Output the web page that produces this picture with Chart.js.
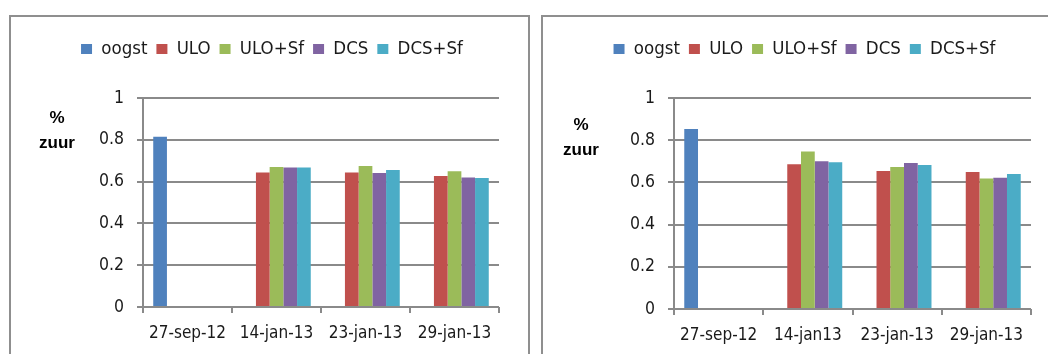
<!DOCTYPE html>
<html>
<head>
<meta charset="utf-8">
<script src="https://cdn.jsdelivr.net/npm/chart.js@4.4.0/dist/chart.umd.min.js"></script>
<style>
  body { margin: 0; width: 1048px; height: 354px; overflow: hidden; background: #fff; position: relative; }
  .box { position: absolute; top: 15px; height: 400px; border: 2px solid #8f8f8f; }
  #box1 { left: 9px; width: 517px; }
  #box2 { left: 541px; width: 520px; }
  canvas { position: absolute; top: 0; }
  #chart1 { left: 0; }
  #chart2 { left: 524px; }
</style>
</head>
<body>
<div class="box" id="box1"></div>
<div class="box" id="box2"></div>
<canvas id="chart1" width="524" height="354"></canvas>
<canvas id="chart2" width="524" height="354"></canvas>
<script>
const seriesNames = ['oogst', 'ULO', 'ULO+Sf', 'DCS', 'DCS+Sf'];
const seriesColors = ['#4f81bd', '#c0504d', '#9bbb59', '#8064a2', '#4bacc6'];

const datesLeft = ['27-sep-12', '14-jan-13', '23-jan-13', '29-jan-13'];
const oogstLeft = [0.815, null, null, null];
const uloLeft = [null, 0.643, 0.644, 0.627];
const uloSfLeft = [null, 0.670, 0.675, 0.649];
const dcsLeft = [null, 0.668, 0.641, 0.620];
const dcsSfLeft = [null, 0.667, 0.655, 0.617];

const datesRight = ['27-sep-12', '14-jan13', '23-jan-13', '29-jan-13'];
const oogstRight = [0.853, null, null, null];
const uloRight = [null, 0.686, 0.654, 0.649];
const uloSfRight = [null, 0.747, 0.673, 0.618];
const dcsRight = [null, 0.700, 0.692, 0.622];
const dcsSfRight = [null, 0.695, 0.682, 0.640];

const yTicks = [0, 0.2, 0.4, 0.6, 0.8, 1];

const narrowFont = '"DejaVu Sans Condensed", sans-serif';
const gridColor = '#8a8a8a';

// "% zuur" sits horizontally to the left of the value axis
const unitLabel = {
    id: 'unitLabel',
    afterDraw(chart, args, opts) {
        const ctx = chart.ctx;
        const x = chart.chartArea.left - opts.dx;
        const y = chart.chartArea.top;
        ctx.save();
        ctx.font = 'bold 17px "Liberation Sans", Arial, sans-serif';
        ctx.fillStyle = '#000';
        ctx.textAlign = 'center';
        ctx.textBaseline = 'middle';
        ctx.fillText('%', x, y + opts.dy);
        ctx.fillText('zuur', x, y + opts.dy + 25);
        ctx.restore();
    }
};

function makeChart(id, dates, values, box) {
    const ctx = document.getElementById(id).getContext('2d');
    return new Chart(ctx, {
        type: 'bar',
        data: {
            labels: dates,
            datasets: values.map((v, i) => ({
                label: seriesNames[i],
                data: v,
                backgroundColor: seriesColors[i],
                borderWidth: 0,
                barPercentage: 1,
                categoryPercentage: 0.77
            }))
        },
        options: {
            responsive: false,
            animation: false,
            layout: {
                padding: { left: box.padLeft, right: box.padRight, top: 30.75, bottom: 0 }
            },
            plugins: {
                legend: {
                    position: 'top',
                    labels: {
                        boxWidth: 11,
                        boxHeight: 10,
                        padding: 9,
                        color: '#1a1a1a',
                        font: { family: narrowFont, size: 18.5 }
                    }
                },
                subtitle: {
                    display: true,
                    text: '',
                    weight: 500,
                    font: { size: 10 },
                    padding: { top: 0, bottom: 17.75 }
                },
                tooltip: { enabled: false },
                unitLabel: { dx: box.unitDx, dy: box.unitDy }
            },
            scales: {
                x: {
                    afterFit: scale => { scale.height = box.xHeight; },
                    grid: {
                        drawOnChartArea: false,
                        color: gridColor,
                        lineWidth: 2,
                        tickLength: 6
                    },
                    border: { display: false },
                    ticks: {
                        color: '#1a1a1a',
                        padding: 10,
                        maxRotation: 0,
                        font: { family: narrowFont, size: 17 }
                    }
                },
                y: {
                    min: 0,
                    max: 1,
                    afterFit: scale => { scale.width = box.yWidth; },
                    afterBuildTicks: scale => { scale.ticks = yTicks.map(v => ({ value: v })); },
                    grid: {
                        color: gridColor,
                        lineWidth: 2,
                        tickLength: 6
                    },
                    border: { color: gridColor, width: 2 },
                    ticks: {
                        color: '#1a1a1a',
                        padding: 13,
                        font: { family: narrowFont, size: 17.5 },
                        callback: value => String(value)
                    }
                }
            }
        },
        plugins: [unitLabel]
    });
}

makeChart('chart1', datesLeft, [oogstLeft, uloLeft, uloSfLeft, dcsLeft, dcsSfLeft],
    { padLeft: 45, padRight: 25, yWidth: 98, xHeight: 47, unitDx: 86, unitDy: 20 });
makeChart('chart2', datesRight, [oogstRight, uloRight, uloSfRight, dcsRight, dcsSfRight],
    { padLeft: 54, padRight: 17, yWidth: 96, xHeight: 45, unitDx: 93, unitDy: 27 });
</script>
</body>
</html>
